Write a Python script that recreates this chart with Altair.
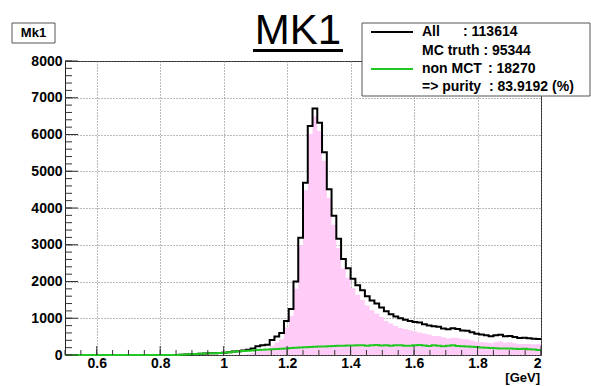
import altair as alt
import numpy as np
import pandas as pd

# Histogram binning: 100 bins of 15 MeV from 0.5 to 2.0 GeV
BIN_LO, BIN_HI, N_BINS = 0.5, 2.0, 100

# Entries per bin (all candidates)
all_counts = [0] * 24 + [
    10, 15, 20, 28, 35, 40, 45, 50, 55, 62,
    78, 92, 105, 120, 140, 180, 235, 262, 280, 410, 505, 598, 925,
    1250, 2000, 3190, 4690, 6230, 6710, 6320, 5520, 4510, 3790,
    3160, 2610, 2360, 2075, 1900, 1760, 1600, 1480, 1400, 1290, 1190, 1110, 1050, 1000,
    960, 925, 900, 885, 840, 805, 780, 770, 720, 700, 730, 710, 670, 660, 620,
    575, 555, 535, 510, 535, 550, 510, 520, 490, 465, 470, 455, 445, 435,
]

# Entries per bin matched to MC truth
mct_counts = [0] * 34 + [
    3, 2, 5, 10, 22, 55, 100, 122, 130, 252, 340, 426, 745,
    1060, 1802, 2985, 4480, 6015, 6488, 6092, 5288, 4272, 3545,
    2910, 2355, 2100, 1817, 1638, 1495, 1345, 1218, 1130, 1032, 925, 860, 788, 732,
    705, 675, 638, 615, 582, 557, 518, 515, 480, 450, 468, 462, 435, 430, 395,
    360, 350, 340, 320, 350, 370, 332, 345, 322, 300, 300, 300, 295, 300,
]

# Entries per bin not matched to MC truth
nonmct_counts = [0] * 24 + [
    10, 15, 20, 28, 35, 40, 45, 50, 55, 62,
    75, 90, 100, 110, 118, 125, 135, 140, 150, 158, 165, 172, 180,
    190, 198, 205, 210, 215, 222, 228, 232, 238, 245,
    250, 255, 260, 258, 262, 265, 255, 262, 270, 258, 265, 250, 262, 268,
    255, 250, 262, 270, 258, 248, 262, 255, 240, 250, 262, 248, 235, 230, 225,
    215, 205, 195, 190, 185, 180, 178, 175, 168, 165, 170, 155, 150, 135,
]

# Legend entries
legend_rows = [
    ("All", ": 113614"),
    ("MC truth : 95344", ""),
    ("non MCT", ": 18270"),
    ("=> purity", ": 83.9192 (%)"),
]

x_major = [0.6, 0.8, 1.0, 1.2, 1.4, 1.6, 1.8, 2.0]
x_minor = [round(0.5 + 0.05 * i, 2) for i in range(31)]
y_major = list(range(0, 8001, 1000))
y_minor = list(range(0, 8001, 200))

edges = np.round(np.linspace(BIN_LO, BIN_HI, N_BINS + 1), 4)
hist = pd.DataFrame({
    "x": edges,
    "all": all_counts + all_counts[-1:],
    "mct": mct_counts + mct_counts[-1:],
    "nonmct": nonmct_counts + nonmct_counts[-1:],
})

W, H = 476, 294
FONT = "Liberation Sans"

x_scale = alt.Scale(domain=[BIN_LO, BIN_HI], nice=False, zero=False)
y_scale = alt.Scale(domain=[0, 8000], nice=False)

x_axis = alt.Axis(values=x_major, format="~g", title=None, ticks=False, domain=False,
                  grid=True, gridColor="#777", gridDash=[1, 2], gridWidth=1,
                  labelFont=FONT, labelFontSize=14, labelFontWeight="bold",
                  labelColor="black", labelPadding=1)
y_axis = alt.Axis(values=y_major, format="d", title=None, ticks=False, domain=False,
                  grid=True, gridColor="#777", gridDash=[1, 2], gridWidth=1,
                  labelFont=FONT, labelFontSize=14, labelFontWeight="bold",
                  labelColor="black", labelPadding=3)


def X(field):
    return alt.X(field, type="quantitative", scale=x_scale, axis=x_axis)


def Y(field):
    return alt.Y(field, type="quantitative", scale=y_scale, axis=y_axis)


base = alt.Chart(hist)
mct_area = base.mark_area(interpolate="step-after", color="#ffccf8").encode(x=X("x"), y=Y("mct"))
all_line = base.mark_line(interpolate="step-after", color="black", strokeWidth=2).encode(x=X("x"), y=Y("all"))
non_line = base.mark_line(interpolate="step-after", color="#22c822", strokeWidth=2).encode(x=X("x"), y=Y("nonmct"))

# Tick marks drawn inside the frame
xt_major = alt.Chart(pd.DataFrame({"v": x_major})).mark_rule(color="#333", strokeWidth=1).encode(
    x=X("v"), y=alt.value(H), y2=alt.value(H - 9))
xt_minor = alt.Chart(pd.DataFrame({"v": x_minor})).mark_rule(color="#333", strokeWidth=1).encode(
    x=X("v"), y=alt.value(H), y2=alt.value(H - 5))
yt_major = alt.Chart(pd.DataFrame({"v": y_major})).mark_rule(color="#333", strokeWidth=1).encode(
    y=Y("v"), x=alt.value(0), x2=alt.value(13))
yt_minor = alt.Chart(pd.DataFrame({"v": y_minor})).mark_rule(color="#333", strokeWidth=1).encode(
    y=Y("v"), x=alt.value(0), x2=alt.value(7))


def label(text, x, y, size=14, weight="bold", align="left", baseline="middle", color="black"):
    return alt.Chart(pd.DataFrame({"t": [text]})).mark_text(
        font=FONT, fontSize=size, fontWeight=weight, align=align, baseline=baseline, color=color
    ).encode(x=alt.value(x), y=alt.value(y), text="t:N")


def box(x, x2, y, y2):
    return alt.Chart(pd.DataFrame({"t": [0]})).mark_rect(
        fill="white", stroke="#555", strokeWidth=1
    ).encode(x=alt.value(x), x2=alt.value(x2), y=alt.value(y), y2=alt.value(y2))


def seg(x, x2, y, color, width=2):
    return alt.Chart(pd.DataFrame({"t": [0]})).mark_rule(color=color, strokeWidth=width).encode(
        x=alt.value(x), x2=alt.value(x2), y=alt.value(y))


# Title with underline, name tag and legend box
title = label("MK1", 233, -17, size=42, weight="normal", align="center", baseline="alphabetic")
underline = seg(188, 278, -10.5, "black", width=3)
tag_box = box(-53, -10, -38, -18)
tag_txt = label("Mk1", -31.5, -28, size=13, align="center")
unit_txt = label("[GeV]", 475, 321, size=13, align="right", baseline="alphabetic")

leg_layers = [box(297, 525, -38, 35)]
row_y = [-29, -10, 8, 26]
value_x = [398, 0, 423, 424]
for (name, value), ry, vx in zip(legend_rows, row_y, value_x):
    leg_layers.append(label(name, 357, ry))
    if value:
        leg_layers.append(label(value, vx, ry))
leg_layers.append(seg(306, 348, row_y[0], "black"))
leg_layers.append(seg(306, 348, row_y[2], "#22c822"))

chart = alt.layer(
    mct_area, all_line, non_line,
    xt_minor, xt_major, yt_minor, yt_major,
    title, underline, tag_box, tag_txt, unit_txt,
    *leg_layers,
).properties(
    width=W, height=H,
    autosize=alt.AutoSizeParams(type="none"),
    padding={"left": 65, "top": 61, "right": 50, "bottom": 31},
    background="white",
).configure_view(stroke="#222", strokeWidth=1)

chart.save("out.html", embed_options={"renderer": "svg", "actions": False})
